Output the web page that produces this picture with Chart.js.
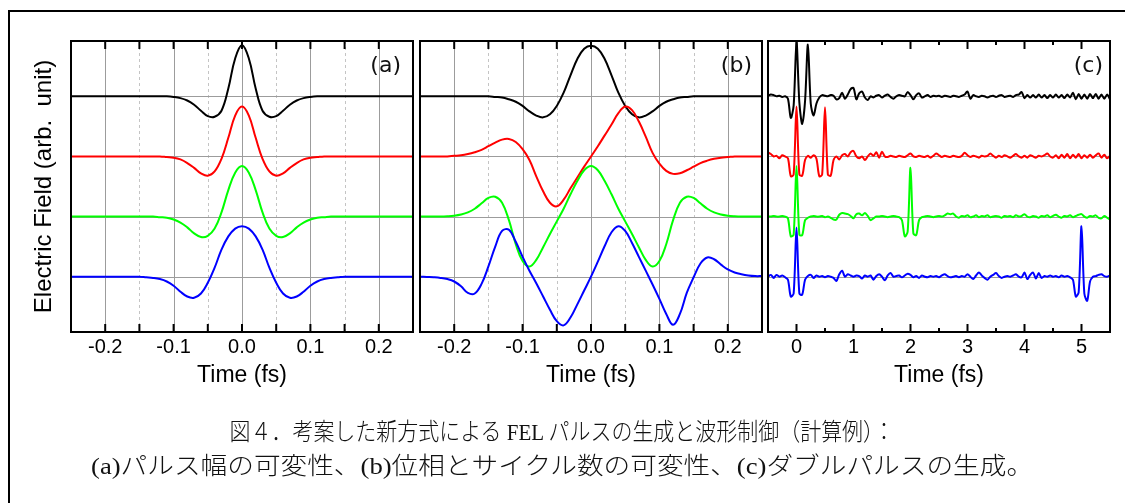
<!DOCTYPE html>
<html lang="ja">
<head>
<meta charset="UTF-8">
<title>FEL pulse waveforms</title>
<script src="https://cdn.jsdelivr.net/npm/chart.js"></script>
<style>
  html, body { margin: 0; padding: 0; background: #fff; overflow: hidden; }
  body { width: 1125px; height: 503px; position: relative; }
  #frame { position: absolute; left: 8px; top: 10px; width: 1200px; height: 600px; border: 2px solid #000; }
  .panel { position: absolute; top: 0; }
  .cap { position: absolute; left: 562px; white-space: nowrap; color: #111;
         font-family: "Liberation Serif", "Noto Sans CJK JP", serif; font-weight: 300;
         font-size: 24px; line-height: 28px; transform-origin: 0 50%; }
</style>
</head>
<body>
<div id="frame"></div>
<canvas id="chartA" class="panel" width="418" height="503" style="left:0px"></canvas>
<canvas id="chartB" class="panel" width="348" height="503" style="left:418px"></canvas>
<canvas id="chartC" class="panel" width="359" height="503" style="left:766px"></canvas>
<div class="cap" data-w="665" style="top:418px">図４．考案した新方式による FEL パルスの生成と波形制御（計算例）：</div>
<div class="cap" data-w="942" style="top:452px">(a)パルス幅の可変性、(b)位相とサイクル数の可変性、(c)ダブルパルスの生成。</div>
<script>
  // ------------------------------------------------------------------ data

  // time axis for panels (a) and (b), fs
  var tAB = [
    -0.25, -0.24, -0.23, -0.22, -0.21, -0.2, -0.19, -0.18, -0.17, -0.16,
    -0.15, -0.14, -0.13, -0.12, -0.11, -0.1, -0.09, -0.08, -0.07, -0.06,
    -0.05, -0.04, -0.03, -0.02, -0.01, 0, 0.01, 0.02, 0.03, 0.04,
    0.05, 0.06, 0.07, 0.08, 0.09, 0.1, 0.11, 0.12, 0.13, 0.14,
    0.15, 0.16, 0.17, 0.18, 0.19, 0.2, 0.21, 0.22, 0.23, 0.24,
    0.25
  ]

  // (a) pulse width
  var aBlack = [
    0, 0, 0, 0, 0, 0, 0, 0, 0, 0,
    0, 0, 0, 0, 0, -0.01, -0.03, -0.07, -0.14, -0.24,
    -0.33, -0.34, -0.24, 0.13, 0.63, 0.85, 0.63, 0.13, -0.24, -0.34,
    -0.33, -0.24, -0.14, -0.07, -0.03, -0.01, 0, 0, 0, 0,
    0, 0, 0, 0, 0, 0, 0, 0, 0, 0,
    0
  ]
  var aRed = [
    0, 0, 0, 0, 0, 0, 0, 0, 0, 0,
    0, 0, 0, 0, -0.01, -0.02, -0.05, -0.11, -0.19, -0.28,
    -0.32, -0.25, -0.04, 0.31, 0.68, 0.83, 0.68, 0.31, -0.04, -0.25,
    -0.32, -0.28, -0.19, -0.11, -0.05, -0.02, -0.01, 0, 0, 0,
    0, 0, 0, 0, 0, 0, 0, 0, 0, 0,
    0
  ]
  var aGreen = [
    0, 0, 0, 0, 0, 0, 0, 0, 0, 0,
    0, 0, 0, -0.01, -0.02, -0.05, -0.10, -0.18, -0.28, -0.34,
    -0.32, -0.20, 0.07, 0.44, 0.73, 0.84, 0.73, 0.44, 0.07, -0.20,
    -0.32, -0.34, -0.28, -0.18, -0.10, -0.05, -0.02, -0.01, 0, 0,
    0, 0, 0, 0, 0, 0, 0, 0, 0, 0,
    0
  ]
  var aBlue = [
    0, 0, 0, 0, 0, 0, 0, 0, 0, 0,
    0, -0.01, -0.02, -0.04, -0.08, -0.15, -0.25, -0.33, -0.35, -0.28,
    -0.10, 0.15, 0.45, 0.67, 0.80, 0.84, 0.80, 0.67, 0.45, 0.15,
    -0.10, -0.28, -0.35, -0.33, -0.25, -0.15, -0.08, -0.04, -0.02, -0.01,
    0, 0, 0, 0, 0, 0, 0, 0, 0, 0,
    0
  ]

  // (b) phase and number of cycles
  var bBlack = [
    0, 0, 0, 0, 0, 0, 0, 0, 0, 0,
    0, -0.01, -0.02, -0.05, -0.09, -0.16, -0.25, -0.32, -0.35, -0.30,
    -0.16, 0.06, 0.35, 0.62, 0.79, 0.84, 0.79, 0.62, 0.35, 0.06,
    -0.16, -0.30, -0.35, -0.32, -0.25, -0.16, -0.09, -0.05, -0.02, -0.01,
    0, 0, 0, 0, 0, 0, 0, 0, 0, 0,
    0
  ]
  var bRed = [
    0, 0, 0, 0, 0, 0.01, 0.02, 0.04, 0.07, 0.11,
    0.17, 0.23, 0.28, 0.29, 0.24, 0.12, -0.06, -0.33, -0.58, -0.77,
    -0.83, -0.72, -0.53, -0.35, -0.17, 0, 0.17, 0.35, 0.53, 0.72,
    0.83, 0.77, 0.58, 0.33, 0.06, -0.12, -0.24, -0.29, -0.28, -0.23,
    -0.17, -0.11, -0.07, -0.04, -0.02, -0.01, 0, 0, 0, 0,
    0
  ]
  var bGreen = [
    0, 0, 0, 0, 0.005, 0.015, 0.035, 0.07, 0.13, 0.22,
    0.31, 0.33, 0.23, -0.06, -0.46, -0.74, -0.83, -0.72, -0.51, -0.29,
    -0.08, 0.13, 0.37, 0.59, 0.77, 0.84, 0.77, 0.59, 0.37, 0.13,
    -0.08, -0.29, -0.51, -0.72, -0.83, -0.74, -0.46, -0.06, 0.23, 0.33,
    0.31, 0.22, 0.13, 0.07, 0.035, 0.015, 0.005, 0, 0, 0,
    0
  ]
  var bBlue = [
    0, -0.005, -0.01, -0.02, -0.04, -0.08, -0.16, -0.27, -0.28, -0.12,
    0.17, 0.50, 0.76, 0.78, 0.58, 0.33, 0.10, -0.11, -0.33, -0.55,
    -0.74, -0.81, -0.68, -0.46, -0.23, 0, 0.25, 0.51, 0.74, 0.84,
    0.76, 0.56, 0.33, 0.10, -0.13, -0.37, -0.62, -0.80, -0.62, -0.27,
    -0.01, 0.22, 0.32, 0.29, 0.20, 0.12, 0.07, 0.04, 0.02, 0.01,
    0.01
  ]

  // time axis for panel (c), fs
  var tC = [
    -0.5, -0.45, -0.4, -0.35, -0.3, -0.25, -0.2, -0.15, -0.1, -0.05,
    0, 0.05, 0.1, 0.15, 0.2, 0.25, 0.3, 0.35, 0.4, 0.45,
    0.5, 0.55, 0.6, 0.65, 0.7, 0.75, 0.8, 0.85, 0.9, 0.95,
    1, 1.05, 1.1, 1.15, 1.2, 1.25, 1.3, 1.35, 1.4, 1.45,
    1.5, 1.55, 1.6, 1.65, 1.7, 1.75, 1.8, 1.85, 1.9, 1.95,
    2, 2.05, 2.1, 2.15, 2.2, 2.25, 2.3, 2.35, 2.4, 2.45,
    2.5, 2.55, 2.6, 2.65, 2.7, 2.75, 2.8, 2.85, 2.9, 2.95,
    3, 3.05, 3.1, 3.15, 3.2, 3.25, 3.3, 3.35, 3.4, 3.45,
    3.5, 3.55, 3.6, 3.65, 3.7, 3.75, 3.8, 3.85, 3.9, 3.95,
    4, 4.05, 4.1, 4.15, 4.2, 4.25, 4.3, 4.35, 4.4, 4.45,
    4.5, 4.55, 4.6, 4.65, 4.7, 4.75, 4.8, 4.85, 4.9, 4.95,
    5, 5.05, 5.1, 5.15, 5.2, 5.25, 5.3, 5.35, 5.4, 5.45,
    5.5
  ]

  // (c) double pulses
  var cBlack = [
    0.01, 0.03, 0.02, 0.00, 0.01, -0.01, 0.00, -0.04, -0.36, -0.15,
    0.90, -0.10, -0.46, -0.08, 0.86, -0.12, -0.32, -0.12, -0.02, 0.02,
    0.01, 0.00, 0.02, 0.01, -0.05, -0.03, 0.06, -0.04, 0.03, 0.12,
    0.14, -0.05, 0.05, 0.08, -0.02, -0.06, 0.00, -0.02, 0.01, 0.02,
    -0.02, 0.01, 0.03, -0.01, -0.04, 0.00, 0.02, 0.01, 0.00, 0.07,
    0.02, -0.05, 0.02, 0.05, -0.02, 0.00, 0.02, -0.01, 0.01, 0.00,
    0.01, -0.01, 0.01, 0.00, -0.01, 0.01, 0.00, -0.01, 0.01, 0.03,
    0.08, -0.04, 0.02, 0.00, -0.01, 0.01, 0.00, -0.02, 0.00, 0.01,
    -0.01, 0.01, 0.02, -0.01, 0.00, 0.01, -0.01, 0.02, 0.03, 0.07,
    -0.03, 0.02, -0.02, 0.02, -0.02, 0.03, -0.02, 0.02, -0.03, 0.02,
    -0.02, 0.03, -0.02, 0.02, -0.03, 0.03, -0.02, 0.06, -0.05, 0.04,
    -0.04, 0.03, -0.04, 0.04, -0.03, 0.04, -0.04, 0.03, -0.04, 0.03,
    -0.05
  ]
  var cRed = [
    0.07, 0.04, 0.00, 0.01, -0.03, 0.02, 0.00, -0.03, -0.33, -0.30,
    0.83, -0.30, -0.32, -0.06, 0.01, -0.02, 0.02, -0.04, -0.33, -0.30,
    0.82, -0.30, -0.32, -0.06, 0.00, -0.05, 0.02, 0.04, 0.00, 0.07,
    0.09, 0.00, -0.03, 0.00, -0.06, 0.00, 0.05, 0.01, 0.07, -0.02,
    0.08, 0.00, -0.01, 0.01, 0.00, -0.01, 0.01, 0.00, -0.01, 0.02,
    0.05, 0.00, -0.01, 0.01, 0.00, -0.01, 0.01, -0.02, 0.01, 0.05,
    0.02, -0.01, 0.01, 0.00, -0.01, 0.01, 0.00, -0.01, 0.01, 0.06,
    0.02, -0.01, 0.01, 0.00, -0.02, 0.01, 0.00, 0.01, 0.05, 0.01,
    -0.02, 0.01, -0.01, 0.02, 0.00, -0.02, 0.01, 0.04, 0.00, -0.02,
    0.01, -0.02, 0.02, 0.00, -0.02, 0.01, 0.00, 0.02, 0.05, 0.00,
    -0.02, 0.02, -0.03, 0.03, -0.02, 0.04, -0.03, 0.03, -0.02, 0.04,
    -0.03, 0.02, -0.02, 0.03, -0.02, 0.02, 0.05, -0.02, 0.03, -0.03,
    0.01
  ]
  var cGreen = [
    0.00, 0.00, 0.01, 0.00, 0.00, 0.01, 0.00, -0.03, -0.33, -0.30,
    0.84, -0.30, -0.31, -0.06, -0.02, 0.00, 0.01, 0.00, 0.00, 0.01,
    -0.01, 0.00, -0.02, -0.05, -0.05, 0.03, 0.06, 0.05, 0.04, 0.01,
    -0.03, 0.04, 0.05, 0.02, 0.06, 0.01, -0.06, -0.03, 0.00, 0.00,
    0.01, 0.00, -0.01, 0.00, 0.01, 0.00, -0.01, -0.06, -0.33, -0.25,
    0.81, -0.28, -0.31, -0.06, -0.01, 0.00, 0.01, 0.00, -0.01, 0.00,
    0.01, 0.00, 0.02, 0.05, 0.04, 0.05, 0.00, -0.02, 0.01, 0.00,
    0.02, -0.01, 0.00, 0.02, -0.01, 0.01, 0.00, 0.02, -0.01, 0.00,
    0.01, 0.00, -0.02, 0.01, 0.00, 0.01, -0.01, 0.02, 0.00, 0.01,
    0.04, 0.00, -0.01, 0.01, 0.00, -0.02, 0.01, 0.00, 0.02, -0.01,
    0.01, 0.03, 0.00, -0.02, 0.01, 0.00, 0.02, -0.01, 0.01, 0.03,
    0.04, 0.00, -0.02, 0.01, 0.00, 0.02, -0.02, -0.03, 0.01, -0.02,
    -0.05
  ]
  var cBlue = [
    0.00, 0.03, -0.02, 0.03, 0.00, 0.02, -0.01, -0.05, -0.33, -0.28,
    0.82, -0.28, -0.30, -0.05, 0.01, 0.03, -0.02, 0.02, 0.00, 0.01,
    -0.01, 0.01, 0.00, -0.02, -0.07, 0.04, 0.10, 0.00, 0.04, 0.02,
    0.00, 0.02, 0.01, -0.03, 0.02, 0.00, 0.02, -0.05, 0.01, 0.04,
    0.00, -0.06, 0.02, 0.06, 0.00, 0.01, 0.02, -0.01, 0.02, 0.05,
    0.03, -0.01, 0.01, -0.02, 0.02, 0.00, -0.01, 0.01, 0.00, 0.01,
    -0.01, 0.02, 0.04, 0.01, -0.01, 0.00, 0.01, -0.01, 0.01, 0.00,
    0.04, 0.00, -0.04, 0.02, 0.07, 0.02, -0.02, -0.05, 0.00, 0.03,
    0.06, 0.01, -0.02, 0.00, 0.01, 0.00, 0.02, 0.04, 0.00, -0.01,
    0.07, -0.04, 0.03, 0.07, -0.03, 0.06, -0.02, 0.01, 0.00, 0.02,
    0.00, 0.01, -0.01, 0.02, 0.00, 0.01, -0.01, -0.05, -0.33, -0.26,
    0.84, -0.28, -0.40, -0.08, 0.00, 0.01, 0.03, 0.04, 0.01, 0.00,
    0.02
  ]

  // tick labels
  var ticksAB = [-0.2, -0.1, 0, 0.1, 0.2]
  var ticksC = [0, 1, 2, 3, 4, 5]

  // ----------------------------------------------------------- chart setup

  var colors = ['#000000', '#ff0000', '#00ff00', '#0000ff']
  var offsets = [3, 2, 1, 0]   // baseline of each trace, stacked top to bottom
  var sans = '"Liberation Sans", Arial, sans-serif'

  function makeDatasets (t, series, tension) {
    return series.map(function (vals, k) {
      return {
        data: t.map(function (tt, i) { return { x: tt, y: vals[i] + offsets[k] } }),
        borderColor: colors[k],
        borderWidth: 2,
        pointRadius: 0,
        tension: tension,
        order: 3 - k
      }
    })
  }

  function line (ctx, x1, y1, x2, y2) {
    ctx.beginPath()
    ctx.moveTo(x1, y1)
    ctx.lineTo(x2, y2)
    ctx.stroke()
  }

  // grid, frame, inward ticks and panel letter
  function makeDeco (cfg) {
    return {
      id: 'panelDeco',
      beforeDatasetsDraw: function (chart) {
        var ctx = chart.ctx, a = chart.chartArea
        var sx = chart.scales.x, sy = chart.scales.y
        ctx.save()
        ctx.lineWidth = 1
        ctx.strokeStyle = '#c4c4c4'
        ctx.setLineDash([3, 3])
        cfg.dashed.forEach(function (v) {
          var px = Math.round(sx.getPixelForValue(v)) + 0.5
          line(ctx, px, a.top, px, a.bottom)
        })
        ctx.setLineDash([])
        ctx.strokeStyle = '#9c9c9c'
        cfg.solid.forEach(function (v) {
          var px = Math.round(sx.getPixelForValue(v)) + 0.5
          line(ctx, px, a.top, px, a.bottom)
        })
        offsets.forEach(function (b) {
          var py = Math.round(sy.getPixelForValue(b)) + 0.5
          line(ctx, a.left, py, a.right, py)
        })
        ctx.restore()
      },
      afterDatasetsDraw: function (chart) {
        var ctx = chart.ctx, a = chart.chartArea
        var sx = chart.scales.x
        ctx.save()
        ctx.strokeStyle = '#000'
        ctx.lineWidth = 2
        cfg.marks.forEach(function (m) {
          var px = sx.getPixelForValue(m[0])
          line(ctx, px, a.top, px, a.top + m[1])
          line(ctx, px, a.bottom, px, a.bottom - m[1])
        })
        ctx.strokeRect(a.left, a.top, a.right - a.left, a.bottom - a.top)
        ctx.fillStyle = '#111'
        ctx.font = '22px "DejaVu Sans", sans-serif'
        ctx.textAlign = 'right'
        ctx.textBaseline = 'middle'
        ctx.fillText(cfg.label, a.right - cfg.inset, 66)
        ctx.restore()
      }
    }
  }

  function makeOptions (cfg) {
    var opts = {
      responsive: false,
      animation: false,
      events: [],
      layout: { padding: { left: cfg.padLeft, right: cfg.padRight, top: 41, bottom: 0 } },
      plugins: { legend: { display: false }, tooltip: { enabled: false } },
      scales: {
        x: {
          type: 'linear',
          min: cfg.xMin,
          max: cfg.xMax,
          afterBuildTicks: function (s) { s.ticks = cfg.tickVals.map(function (v) { return { value: v } }) },
          afterFit: function (s) { s.height = 171 },
          ticks: {
            autoSkip: false,
            maxRotation: 0,
            color: '#000',
            padding: 3,
            font: { family: sans, size: 20 },
            callback: cfg.fmt
          },
          grid: { display: false, drawTicks: false },
          border: { display: false },
          title: {
            display: true,
            text: 'Time (fs)',
            color: '#000',
            font: { family: sans, size: 23 },
            padding: { top: 0, bottom: 114 }
          }
        },
        y: {
          type: 'linear',
          min: -0.92,
          max: 3.92,
          display: !!cfg.yTitle,
          ticks: { display: false },
          grid: { display: false, drawTicks: false },
          border: { display: false },
          title: {
            display: !!cfg.yTitle,
            text: cfg.yTitle || '',
            color: '#000',
            font: { family: sans, size: 24 },
            padding: { top: 30, bottom: 0 }
          }
        }
      }
    }
    if (cfg.yTitle) {
      opts.scales.y.afterFit = function (s) { s.width = 71 }
    }
    return opts
  }

  var fmtAB = function (v) { return Number(v).toFixed(1) }
  var fmtC = function (v) { return String(v) }

  var marksAB = [-0.2, -0.15, -0.1, -0.05, 0, 0.05, 0.1, 0.15, 0.2].map(function (v) { return [v, 8] })
  var marksC = [0, 0.5, 1, 1.5, 2, 2.5, 3, 3.5, 4, 4.5, 5].map(function (v) { return [v, v % 1 === 0 ? 8 : 4] })

  // -------------------------------------------------------------- (a)

  new Chart(document.getElementById('chartA'), {
    type: 'line',
    data: { datasets: makeDatasets(tAB, [aBlack, aRed, aGreen, aBlue], 0.4) },
    options: makeOptions({
      padLeft: 0, padRight: 5, xMin: -0.25, xMax: 0.25, tickVals: ticksAB, fmt: fmtAB,
      yTitle: 'Electric Field (arb.  unit)'
    }),
    plugins: [makeDeco({
      solid: [-0.2, -0.1, 0, 0.1, 0.2], dashed: [-0.15, -0.05, 0.05, 0.15],
      marks: marksAB, label: '(a)', inset: 12
    })]
  })

  // -------------------------------------------------------------- (b)

  new Chart(document.getElementById('chartB'), {
    type: 'line',
    data: { datasets: makeDatasets(tAB, [bBlack, bRed, bGreen, bBlue], 0.4) },
    options: makeOptions({
      padLeft: 2, padRight: 4, xMin: -0.25, xMax: 0.25, tickVals: ticksAB, fmt: fmtAB
    }),
    plugins: [makeDeco({
      solid: [-0.2, -0.1, 0, 0.1, 0.2], dashed: [-0.15, -0.05, 0.05, 0.15],
      marks: marksAB, label: '(b)', inset: 10
    })]
  })

  // -------------------------------------------------------------- (c)

  new Chart(document.getElementById('chartC'), {
    type: 'line',
    data: { datasets: makeDatasets(tC, [cBlack, cRed, cGreen, cBlue], 0.3) },
    options: makeOptions({
      padLeft: 2, padRight: 15, xMin: -0.5, xMax: 5.5, tickVals: ticksC, fmt: fmtC
    }),
    plugins: [makeDeco({
      solid: [], dashed: [], marks: marksC, label: '(c)', inset: 7
    })]
  })

  // ---------------------------------------------------------- caption fit

  function fitCaptions () {
    document.querySelectorAll('.cap').forEach(function (el) {
      el.style.transform = 'none'
      var w = el.offsetWidth
      var target = Number(el.getAttribute('data-w'))
      el.style.transform = 'translateX(' + (-target / 2) + 'px) scaleX(' + (target / w) + ')'
    })
  }
  fitCaptions()
  if (document.fonts && document.fonts.ready) document.fonts.ready.then(fitCaptions)
</script>
</body>
</html>
